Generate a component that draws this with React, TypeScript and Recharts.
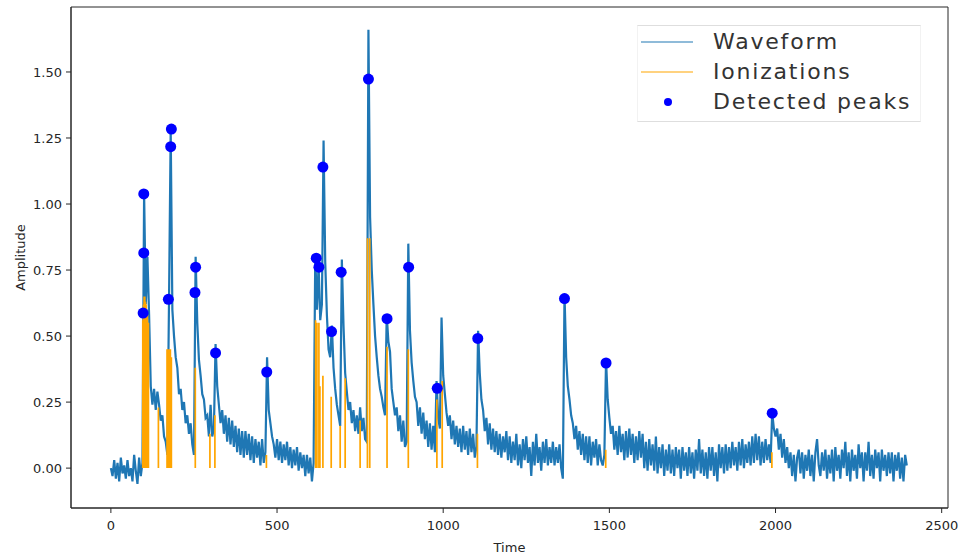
import React from "react";
import { ComposedChart, Legend, Line, ReferenceArea, Scatter, XAxis, YAxis } from "recharts";

// axis ranges and ticks
const X_DOMAIN: [number, number] = [-120, 2519];
const Y_DOMAIN: [number, number] = [-0.151, 1.746];
const X_TICKS = [0, 500, 1000, 1500, 2000, 2500];
const Y_TICKS = [0, 0.25, 0.5, 0.75, 1.0, 1.25, 1.5];

// waveform, every 5 time units
const SAMPLE_STEP = 5;
const wave0 = [
  0.0, -0.03, 0.03, -0.04, 0.02, -0.05, 0.04, -0.02, 0.01, -0.04,
  0.03, -0.03, 0.0, -0.05, 0.05, -0.01, -0.06, 0.04, -0.03, 0.02,
  1.04, 0.62, 0.8, 0.58, 0.31, 0.24, 0.3, 0.22, 0.29, 0.24,
  0.18, 0.2, 0.12, 0.1, 0.05, 0.64, 1.28, 0.6, 0.5, 0.42,
  0.38, 0.28, 0.3, 0.22, 0.25, 0.17, 0.2, 0.13, 0.17, 0.09,
  0.05, 0.8, 0.55, 0.41, 0.35, 0.28, 0.26, 0.19, 0.2, 0.12,
  0.24, 0.12, 0.15, 0.47, 0.31, 0.24, 0.17, 0.22, 0.13, 0.2,
  0.1, 0.19, 0.09, 0.18, 0.08, 0.16, 0.06, 0.15, 0.05, 0.14,
];
const wave1 = [
  0.04, 0.14, 0.05, 0.13, 0.03, 0.12, 0.02, 0.11, 0.04, 0.1,
  0.01, 0.11, 0.02, 0.06, 0.42, 0.22, 0.17, 0.12, 0.09, 0.04,
  0.11, 0.03, 0.1, 0.02, 0.09, 0.03, 0.1, 0.01, 0.08, 0.0,
  0.07, 0.01, 0.08, -0.01, 0.06, 0.0, 0.05, -0.03, 0.05, -0.02,
  0.04, -0.05, 0.02, 0.81, 0.6, 0.77, 0.56, 0.62, 1.24, 0.78,
  0.58, 0.45, 0.42, 0.54, 0.38, 0.3, 0.24, 0.2, 0.16, 0.79,
  0.54, 0.36, 0.29, 0.22, 0.25, 0.17, 0.22, 0.14, 0.2, 0.13,
  0.23, 0.14, 0.19, 0.11, 0.1, 1.66, 0.95, 0.75, 0.62, 0.5,
];
const wave2 = [
  0.42, 0.35, 0.3, 0.27, 0.23, 0.2, 0.58, 0.48, 0.44, 0.3,
  0.25, 0.2, 0.23, 0.14, 0.2, 0.1, 0.18, 0.08, 0.1, 0.85,
  0.52, 0.4, 0.33, 0.27, 0.25, 0.16, 0.23, 0.13, 0.21, 0.11,
  0.18, 0.08, 0.17, 0.07, 0.16, 0.06, 0.33, 0.19, 0.15, 0.57,
  0.35, 0.28, 0.21, 0.16, 0.2, 0.11, 0.18, 0.09, 0.16, 0.08,
  0.15, 0.06, 0.16, 0.07, 0.14, 0.05, 0.15, 0.06, 0.13, 0.04,
  0.08, 0.52, 0.36, 0.26, 0.22, 0.14, 0.19, 0.09, 0.17, 0.07,
  0.15, 0.06, 0.14, 0.05, 0.13, 0.04, 0.12, 0.06, 0.14, 0.03,
];
const wave3 = [
  0.12, 0.02, 0.1, 0.03, 0.13, 0.01, 0.09, 0.0, 0.11, 0.03,
  0.12, 0.02, 0.08, -0.03, 0.1, 0.01, 0.13, 0.02, 0.08, -0.01,
  0.1, 0.02, 0.11, 0.01, 0.08, 0.02, 0.1, 0.01, 0.08, 0.02,
  0.09, 0.0, -0.04, 0.66, 0.42, 0.31, 0.26, 0.2, 0.17, 0.11,
  0.16, 0.07, 0.14, 0.05, 0.13, 0.03, 0.12, 0.02, 0.12, 0.01,
  0.1, 0.04, 0.11, 0.01, 0.09, 0.03, 0.01, 0.05, 0.41, 0.26,
  0.19, 0.13, 0.16, 0.07, 0.14, 0.05, 0.16, 0.06, 0.13, 0.03,
  0.14, 0.04, 0.15, 0.05, 0.13, 0.02, 0.12, 0.03, 0.14, 0.04,
];
const wave4 = [
  0.13, 0.0, 0.1, -0.01, 0.11, 0.01, 0.09, -0.01, 0.12, -0.02,
  0.08, 0.0, 0.09, -0.03, 0.07, -0.01, 0.09, -0.02, 0.07, -0.03,
  0.08, 0.0, 0.07, -0.04, 0.08, -0.01, 0.06, -0.03, 0.08, -0.02,
  0.06, -0.04, 0.07, -0.01, 0.11, -0.02, 0.07, -0.03, 0.06, -0.04,
  0.08, -0.01, 0.08, -0.03, 0.06, -0.05, 0.09, 0.0, 0.08, -0.02,
  0.09, -0.01, 0.08, 0.0, 0.1, 0.01, 0.08, -0.01, 0.1, 0.01,
  0.11, 0.0, 0.09, 0.02, 0.1, 0.01, 0.12, 0.02, 0.13, 0.03,
  0.12, 0.01, 0.1, 0.02, 0.11, 0.03, 0.09, 0.02, 0.21, 0.15,
];
const wave5 = [
  0.12, 0.15, 0.07, 0.13, 0.04, 0.11, 0.02, 0.08, 0.0, 0.06,
  -0.03, 0.05, -0.05, 0.04, 0.07, -0.02, 0.06, -0.04, 0.05, -0.01,
  0.07, -0.03, 0.05, -0.05, 0.06, 0.11, 0.01, -0.03, 0.06, -0.01,
  0.07, -0.04, 0.05, -0.02, 0.07, -0.05, 0.08, -0.01, 0.05, -0.04,
  0.07, 0.0, 0.1, -0.03, 0.06, -0.05, 0.07, -0.01, 0.05, -0.04,
  0.09, 0.0, 0.06, -0.05, 0.06, -0.01, 0.1, -0.03, 0.05, -0.04,
  0.07, 0.0, 0.06, -0.05, 0.07, -0.01, 0.05, -0.03, 0.06, -0.02,
  0.06, -0.05, 0.05, -0.01, 0.06, -0.04, 0.04, -0.05, 0.05, 0.01,
];

// ionization times and heights (orange stems)
const ionTimes = [
  96, 98, 100, 102, 104, 106, 108, 110, 113, 143, 169, 171, 173, 175, 177, 179, 182,
  254, 298, 313, 468, 616, 620, 626, 629, 638, 663, 690, 705, 750, 772, 779, 831,
  895, 981, 997, 1103, 1489, 1989,
];
const ionHeights = [
  0.56, 0.62, 0.65, 0.65, 0.63, 0.62, 0.6, 0.58, 0.55, 0.23, 0.45, 0.45, 0.45, 0.45, 0.45, 0.45, 0.42,
  0.38, 0.13, 0.2, 0.05, 0.56, 0.55, 0.55, 0.31, 0.35, 0.27, 0.16, 0.34, 0.18, 0.87, 0.87, 0.46,
  0.45, 0.26, 0.33, 0.13, 0.07, 0.06,
];

// detected peaks
const peakTimes = [
  97, 99, 99, 173, 180, 182, 253, 255, 315, 469, 618, 626, 638, 664, 693, 775,
  831, 896, 982, 1104, 1365, 1490, 1990,
];
const peakValues = [
  0.587, 0.815, 1.038, 0.639, 1.217, 1.284, 0.665, 0.761, 0.436, 0.364, 0.795, 0.761, 1.14, 0.517, 0.742, 1.473,
  0.566, 0.761, 0.302, 0.491, 0.642, 0.398, 0.208,
];

const waveform = [...wave0, ...wave1, ...wave2, ...wave3, ...wave4, ...wave5].map((v, i) => ({
  t: i * SAMPLE_STEP,
  v,
}));
const ionizations = ionTimes.flatMap((t, i) => [
  { t, v: 0 },
  { t, v: ionHeights[i] },
  { t, v: null as number | null },
]);
const peaks = peakTimes.map((t, i) => ({ t, v: peakValues[i] }));

const LEGEND_ORDER = ["Waveform", "Ionizations", "Detected peaks"];
const FONT = "DejaVu Sans";
const TEXT = "#262626";

const renderLegend = (props: any) => {
  const items = [...(props.payload || [])].sort(
    (a: any, b: any) => LEGEND_ORDER.indexOf(a.value) - LEGEND_ORDER.indexOf(b.value)
  );
  return (
    <div
      style={{
        width: 284,
        height: 97,
        boxSizing: "border-box",
        background: "#fff",
        borderTop: "1px solid #dedede",
        borderBottom: "1px solid #dedede",
        borderLeft: "1px solid #f2f2f2",
        borderRight: "1px solid #f2f2f2",
        paddingTop: 1,
        fontFamily: FONT,
      }}
    >
      {items.map((entry: any) => (
        <div key={entry.value} style={{ display: "flex", alignItems: "center", height: 30 }}>
          <svg width={75} height={30} style={{ flex: "none" }}>
            {entry.type === "circle" ? (
              <circle cx={30} cy={15} r={4} fill={entry.color} />
            ) : (
              <line x1={3} x2={55} y1={15} y2={15} stroke={entry.color} strokeOpacity={0.5} strokeWidth={2.2} />
            )}
          </svg>
          <span style={{ fontSize: 22, letterSpacing: "1.8px", color: "#333", lineHeight: "30px", whiteSpace: "nowrap" }}>
            {entry.value}
          </span>
        </div>
      ))}
    </div>
  );
};

const AmplitudeLabel = ({ viewBox }: any) => {
  const cx = 20;
  const cy = viewBox.y + viewBox.height / 2;
  return (
    <text
      x={cx}
      y={cy}
      transform={`rotate(-90 ${cx} ${cy})`}
      textAnchor="middle"
      dominantBaseline="central"
      fontFamily={FONT}
      fontSize={13}
      fill={TEXT}
    >
      Amplitude
    </text>
  );
};

const tickStyle = { fontFamily: FONT, fontSize: 13, fill: TEXT };

const App = () => (
  <div style={{ position: "absolute", left: 0, top: 0, background: "#fff" }}>
    <ComposedChart width={961} height={554} margin={{ top: 7, right: 13, left: 0, bottom: 0 }}>
      <XAxis
        type="number"
        dataKey="t"
        domain={X_DOMAIN}
        ticks={X_TICKS}
        allowDataOverflow
        height={46}
        tickSize={5}
        tickMargin={8}
        tick={tickStyle}
        stroke="#262626"
        label={{ value: "Time", position: "insideBottom", offset: 2, style: { fontFamily: FONT, fontSize: 13, fill: TEXT } }}
      />
      <YAxis
        type="number"
        domain={Y_DOMAIN}
        ticks={Y_TICKS}
        allowDataOverflow
        width={71}
        tickSize={5}
        tickMargin={4}
        tick={tickStyle}
        stroke="#262626"
        tickFormatter={(v: number) => v.toFixed(2)}
        label={{ content: AmplitudeLabel }}
      />
      <ReferenceArea
        x1={X_DOMAIN[0]}
        x2={X_DOMAIN[1]}
        y1={Y_DOMAIN[0]}
        y2={Y_DOMAIN[1]}
        fill="none"
        stroke="#262626"
        strokeWidth={1}
        ifOverflow="visible"
      />
      <Line
        data={waveform}
        dataKey="v"
        name="Waveform"
        stroke="#1f77b4"
        strokeWidth={2.2}
        dot={false}
        activeDot={false}
        isAnimationActive={false}
      />
      <Line
        data={ionizations}
        dataKey="v"
        name="Ionizations"
        stroke="#ffa500"
        strokeWidth={1.7}
        dot={false}
        activeDot={false}
        connectNulls={false}
        isAnimationActive={false}
      />
      <Scatter
        data={peaks}
        dataKey="v"
        name="Detected peaks"
        fill="#0000ff"
        isAnimationActive={false}
        shape={(p: any) => <circle cx={p.cx} cy={p.cy} r={5.5} fill="#0000ff" />}
      />
      <Legend
        layout="vertical"
        align="center"
        verticalAlign="middle"
        content={renderLegend}
        wrapperStyle={{ left: 637, top: 25, width: 284, height: 97 }}
      />
    </ComposedChart>
  </div>
);

export default App;
